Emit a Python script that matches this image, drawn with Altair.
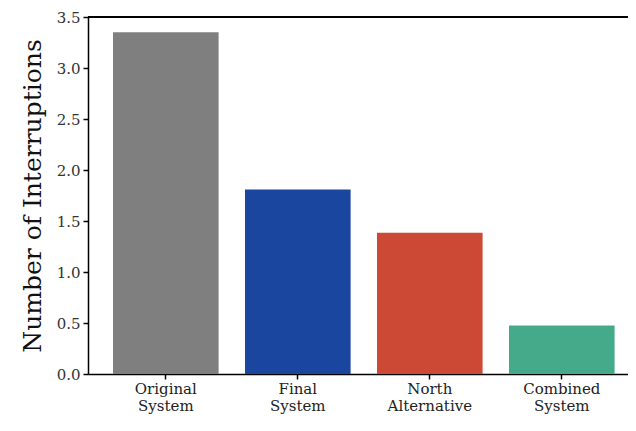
import altair as alt
import pandas as pd

categories = ["Original System", "Final System", "North Alternative", "Combined System"]
values = [3.35, 1.81, 1.385, 0.475]
colors = ["#7f7f7f", "#1a46a0", "#cc4a35", "#45aa8a"]

df = pd.DataFrame({"cat": categories, "val": values, "color": colors})

FONT = "DejaVu Serif"

x = alt.X(
    "cat:N",
    sort=categories,
    scale=alt.Scale(paddingInner=0.2, paddingOuter=0.1455, align=0.651),
    axis=alt.Axis(
        title=None,
        labelAngle=0,
        labelExpr="split(datum.label, ' ')",
        labelFont=FONT,
        labelFontSize=15,
        labelColor="#222",
        labelLineHeight=17,
        labelPadding=2,
        tickSize=5,
        tickColor="black",
        tickWidth=1.5,
        domainColor="black",
        domainWidth=1.5,
    ),
)

bars = alt.Chart(df).mark_bar().encode(
    x=x,
    y=alt.Y(
        "val:Q",
        scale=alt.Scale(domain=[0, 3.5], nice=False),
        axis=alt.Axis(
            title="Number of Interruptions",
            titleFont=FONT,
            titleFontSize=25,
            titleFontWeight="normal",
            titleColor="#111",
            titlePadding=11,
            values=[0, 0.5, 1, 1.5, 2, 2.5, 3, 3.5],
            format=".1f",
            labelFont=FONT,
            labelFontSize=15,
            labelColor="#333",
            labelPadding=3,
            tickSize=5,
            tickColor="black",
            tickWidth=1.5,
            domainColor="black",
            domainWidth=1.5,
            grid=False,
        ),
    ),
    color=alt.Color("color:N", scale=None),
)

top = alt.Chart(df).mark_rule(color="black", strokeWidth=1.5).encode(
    y=alt.datum(3.5)
)

chart = alt.layer(bars, top).properties(
    width=540,
    height=357,
    padding={"left": 80, "top": 9, "right": 0, "bottom": 42},
    autosize=alt.AutoSizeParams(type="none"),
).configure_view(stroke=None)

chart.save("out.html", embed_options={"renderer": "svg", "actions": False})
